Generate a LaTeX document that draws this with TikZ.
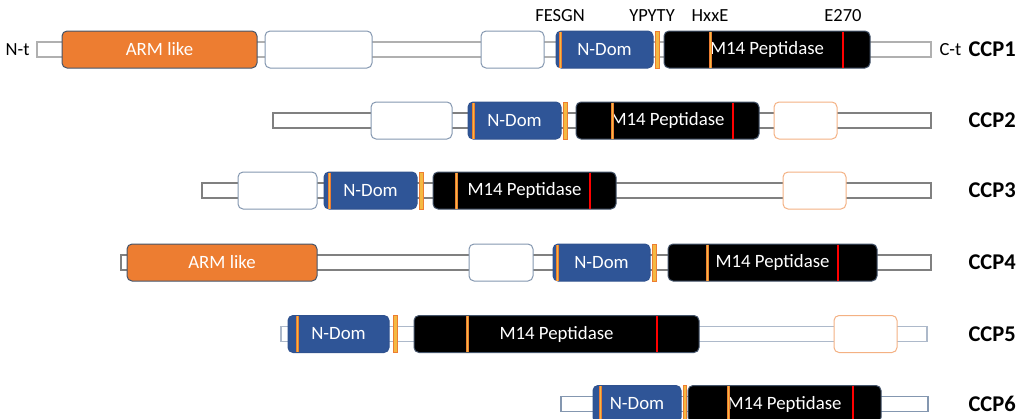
\documentclass[tikz,border=0pt]{standalone}
\usepackage{fontspec}
\setmainfont{Carlito}
\definecolor{armor}{HTML}{ED7D31}
\definecolor{ndom}{HTML}{2F5597}
\definecolor{ndomb}{HTML}{2F528F}
\definecolor{slate}{HTML}{44546A}
\definecolor{emptyb}{HTML}{8497B0}
\definecolor{lorange}{HTML}{F4B183}
\definecolor{goldc}{HTML}{F4B942}
\definecolor{bbgray}{HTML}{808080}
\definecolor{bblight}{HTML}{B0B0B0}
\definecolor{bbblue}{HTML}{ADB9CA}
\newcommand\dbox[6]{\node[#2, minimum width={(#4-#3)*1pt}] (#1) at ({(#3+#4)/2},#5) {#6};}
\newcommand\ostripe[2]{\draw[line width=3pt, draw=armor] (#1,#2-18) -- (#1,#2+18);\draw[line width=1pt, draw=goldc] (#1,#2-18) -- (#1,#2+18);}
\newcommand\rstripe[2]{\draw[line width=1.8pt, draw=red] (#1,#2-18) -- (#1,#2+18);}
\tikzset{
  dom/.style={rounded corners=5pt, minimum height=37pt, inner sep=0pt, outer sep=0pt, line width=1pt, text=white, font=\fontsize{18.8}{20}\selectfont},
  arm/.style={dom, fill=armor, draw=slate},
  nd/.style={dom, fill=ndom, draw=ndomb},
  m14/.style={dom, fill=black, draw=slate},
  emptyblue/.style={dom, fill=white, draw=emptyb},
  emptyor/.style={dom, fill=white, draw=lorange},
  goldbar/.style={minimum height=37pt, inner sep=0pt, outer sep=0pt, fill=goldc, draw=armor, line width=0.9pt},
  bb/.style={minimum height=15pt, inner sep=0pt, outer sep=0pt, fill=white, draw=bbgray, line width=1.2pt},
  ccp/.style={anchor=west, font=\fontsize{22.5}{24}\selectfont\bfseries},
  small/.style={font=\fontsize{18.5}{20}\selectfont}
}
\begin{document}
\begin{tikzpicture}[x=1pt,y=-1pt]
\useasboundingbox (0,0) rectangle (1027,418);
% ---------- CCP1 ----------
\def\yy{49.5}
\node[bb, draw=bblight, minimum width=894pt] (b1) at (484,\yy) {};
\dbox{arm1}{arm}{62}{257}{\yy}{ARM like}
\dbox{e1a}{emptyblue}{265}{372}{\yy}{}
\dbox{e1b}{emptyblue}{481}{544}{\yy}{}
\dbox{n1}{nd}{556}{653}{\yy}{N-Dom}
\dbox{g1}{goldbar}{655}{659}{\yy}{}
\dbox{m1}{m14}{664}{870}{\yy}{M14 Peptidase}
\ostripe{560}{\yy}
\ostripe{710}{\yy}
\rstripe{843}{\yy}
\node[small, anchor=east] (nt) at (33,\yy) {N-t};
\node[small, anchor=west] (ct) at (936,\yy) {C-t};
\node[ccp] (c1) at (965,\yy) {CCP1};
\node[small] (l1) at (560,16) {FESGN};
\node[small] (l2) at (652,16) {YPYTY};
\node[small] (l3) at (710,16) {HxxE};
\node[small] (l4) at (843,16) {E270};
% ---------- CCP2 ----------
\def\yy{120.5}
\node[bb, minimum width=658pt] (b2) at (602,\yy) {};
\dbox{e2a}{emptyblue}{371}{452}{\yy}{}
\dbox{n2}{nd}{468}{561}{\yy}{N-Dom}
\dbox{g2}{goldbar}{563}{567}{\yy}{}
\dbox{m2}{m14}{576}{759}{\yy}{M14 Peptidase}
\dbox{e2b}{emptyor}{774}{837}{\yy}{}
\ostripe{473}{\yy}
\ostripe{612}{\yy}
\rstripe{733}{\yy}
\node[ccp] (c2) at (965,\yy) {CCP2};
% ---------- CCP3 ----------
\def\yy{190.5}
\node[bb, minimum width=729pt] (b3) at (566.5,\yy) {};
\dbox{e3a}{emptyblue}{238}{317}{\yy}{}
\dbox{n3}{nd}{324}{417}{\yy}{N-Dom}
\dbox{g3}{goldbar}{419}{423}{\yy}{}
\dbox{m3}{m14}{433}{616}{\yy}{M14 Peptidase}
\dbox{e3b}{emptyor}{783}{846}{\yy}{}
\ostripe{329}{\yy}
\ostripe{456}{\yy}
\rstripe{590}{\yy}
\node[ccp] (c3) at (965,\yy) {CCP3};
% ---------- CCP4 ----------
\def\yy{262.5}
\node[bb, minimum width=810pt] (b4) at (526,\yy) {};
\dbox{arm4}{arm}{127}{317}{\yy}{ARM like}
\dbox{e4a}{emptyblue}{469}{533}{\yy}{}
\dbox{n4}{nd}{553}{650}{\yy}{N-Dom}
\dbox{g4}{goldbar}{652}{656}{\yy}{}
\dbox{m4}{m14}{668}{877}{\yy}{M14 Peptidase}
\ostripe{557}{\yy}
\ostripe{707}{\yy}
\rstripe{838}{\yy}
\node[ccp] (c4) at (965,\yy) {CCP4};
% ---------- CCP5 ----------
\def\yy{334}
\node[bb, draw=bbblue, minimum width=646pt] (b5) at (604,\yy) {};
\dbox{n5}{nd}{288}{389}{\yy}{N-Dom}
\dbox{g5}{goldbar}{393}{397}{\yy}{}
\dbox{m5}{m14}{414}{699}{\yy}{M14 Peptidase}
\dbox{e5b}{emptyor}{834}{897}{\yy}{}
\ostripe{297}{\yy}
\ostripe{467}{\yy}
\rstripe{657}{\yy}
\node[ccp] (c5) at (965,\yy) {CCP5};
% ---------- CCP6 ----------
\def\yy{404}
\node[bb, draw=emptyb, minimum width=367pt] (b6) at (744.5,\yy) {};
\dbox{n6}{nd}{593}{681}{\yy}{N-Dom}
\dbox{g6}{goldbar}{683}{686}{\yy}{}
\dbox{m6}{m14}{688}{881}{\yy}{M14 Peptidase}
\ostripe{600}{\yy}
\ostripe{728}{\yy}
\rstripe{853}{\yy}
\node[ccp] (c6) at (965,\yy) {CCP6};
\end{tikzpicture}
\end{document}
